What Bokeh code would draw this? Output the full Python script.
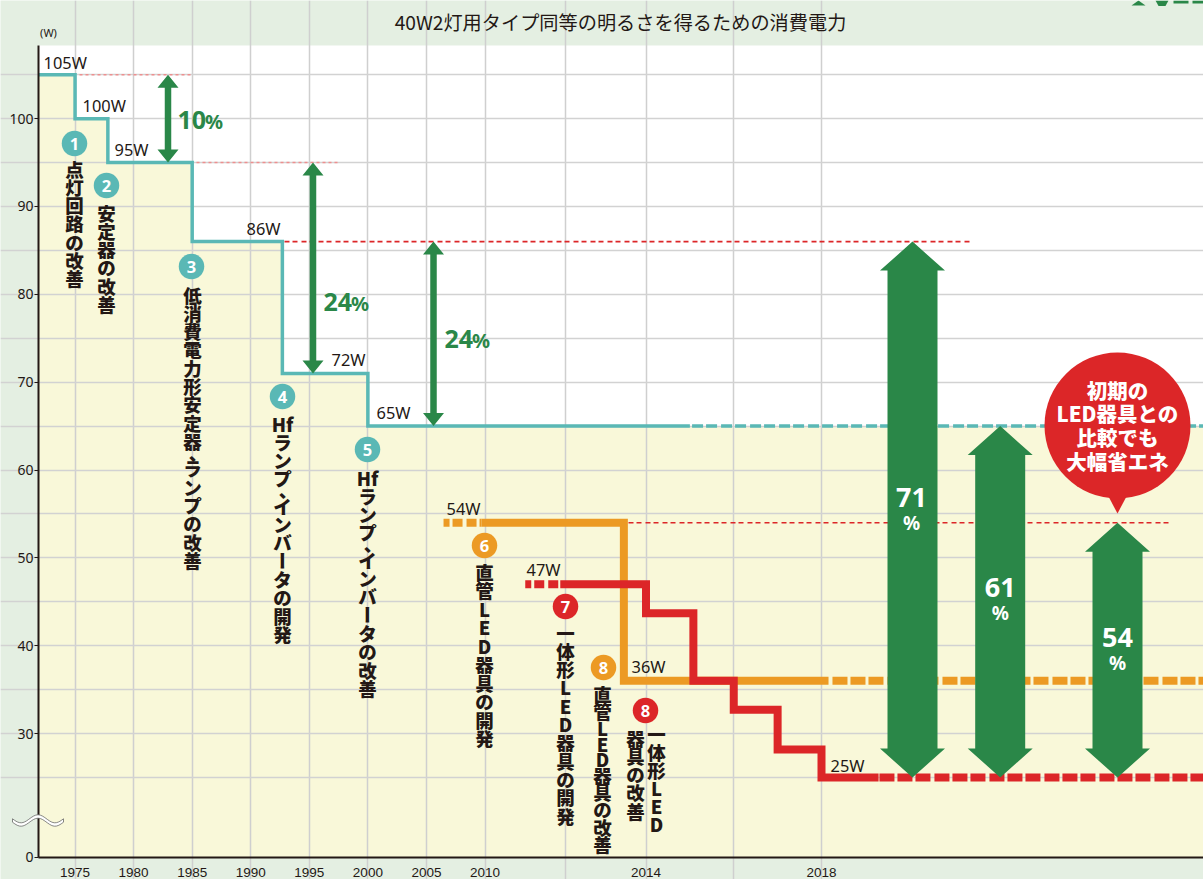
import re
import numpy as np
from bokeh.plotting import figure
from bokeh.models import Range1d, FixedTicker
from bokeh.core.properties import value
from bokeh.embed import file_html
from bokeh.resources import INLINE

# ---------- data ----------
TITLE = "40W2灯用タイプ同等の明るさを得るための消費電力"
X_LABEL_YEARS = [1975, 1980, 1985, 1990, 1995, 2000, 2005, 2010, 2014, 2018]
X_GRID_YEARS = [1975, 1980, 1985, 1990, 1995, 2000, 2005, 2010, 2012, 2014, 2016, 2018]
Y_TICKS = [30, 40, 50, 60, 70, 80, 90, 100]
Y_GRID = [25, 30, 35, 40, 45, 50, 55, 60, 65, 70, 75, 80, 85, 90, 95, 100, 105]

teal_years = [1971.9, 1975.0, 1977.8, 1985.0, 1992.7, 2000.0, 2015.0]
teal_watts = [105, 100, 95, 86, 71, 65, 65]
teal_dash_years = [2015.05, 2026.7]
teal_dash_watts = [65, 65]

orange_years = [2009.7, 2013.45, 2013.45, 2018.16]
orange_watts = [54, 54, 36, 36]
orange_left_years = [2006.46, 2009.7]
orange_right_years = [2018.25, 2026.7]

red_years = [2011.87, 2014.0, 2014.0, 2015.08, 2015.08, 2016.0, 2016.0, 2017.0, 2017.0, 2018.0, 2018.0, 2019.3]
red_watts = [47, 47, 43.7, 43.7, 36, 36, 32.7, 32.7, 28.2, 28.2, 25, 25]
red_left_years = [2011.0, 2011.87]
red_right_years = [2019.32, 2026.7]

# ---------- scales ----------
PX_PER_W = 8.785
BREAK_W = 15.894
TOP_W = 108.33
YEAR_KNOTS = [1970.0, 2010.0, 2014.0, 2018.0, 2030.0]
YEAR_PX = [16.0, 484.5, 645.5, 821.0, 1347.8]
LEFT, RIGHT = 38, 1203
CANVAS_W, CANVAS_H = 1203, 879
OX, OY = 0, 0


def xp(years):
    return np.round(np.interp(years, YEAR_KNOTS, YEAR_PX), 2)


def yp(py):
    return 25 + (777 - np.asarray(py, dtype=float)) / PX_PER_W


p = figure(width=CANVAS_W, height=CANVAS_H, output_backend="svg", toolbar_location=None,
           x_range=Range1d(OX, OX + CANVAS_W), y_range=Range1d(float(yp(OY + CANVAS_H)), float(yp(OY))),
           min_border_left=0, min_border_right=0, min_border_top=0, min_border_bottom=0,
           background_fill_color="#e4efe2", border_fill_color="#e4efe2",
           outline_line_color=None)

# plot area
p.quad(left=[LEFT], right=[RIGHT], bottom=[BREAK_W], top=[TOP_W], fill_color="#ffffff", line_color=None, level="image")

# axes
INK = "#231815"
ax = p.xaxis[0]
ax.fixed_location = BREAK_W
ax.bounds = (LEFT, RIGHT)
ax.ticker = FixedTicker(ticks=[float(xp(y)) for y in X_LABEL_YEARS])
ax.major_label_overrides = {float(xp(y)): str(y) for y in X_LABEL_YEARS}
ax.major_tick_line_color = None
ax.minor_tick_line_color = None
ax.axis_line_color = INK
ax.axis_line_width = 2
ax.major_label_text_font = "Liberation Sans"
ax.major_label_text_font_size = "13.5px"
ax.major_label_text_color = INK
ax.major_label_standoff = 5

ay = p.yaxis[0]
ay.fixed_location = LEFT
ay.bounds = (BREAK_W, TOP_W)
ay.ticker = FixedTicker(ticks=[BREAK_W] + Y_TICKS)
ay.major_label_overrides = {BREAK_W: "0"}
ay.minor_tick_line_color = None
ay.major_tick_in = 0
ay.major_tick_out = 4
ay.major_tick_line_color = INK
ay.axis_line_color = INK
ay.axis_line_width = 2
ay.major_label_text_font = "Noto Sans"
ay.major_label_text_font_size = "14px"
ay.major_label_text_color = INK
ay.major_label_standoff = 1

p.xgrid.ticker = FixedTicker(ticks=[float(xp(y)) for y in X_GRID_YEARS])
p.ygrid.ticker = FixedTicker(ticks=Y_GRID)
p.xgrid.bounds = (BREAK_W, TOP_W)
p.ygrid.bounds = (LEFT, RIGHT)
p.xgrid.grid_line_color = "#cfcfcf"
p.ygrid.grid_line_color = "#d2d2d2"
p.xgrid.grid_line_width = 1.5
p.ygrid.grid_line_width = 1.5

# yellow area below the teal line
area_x = xp(teal_years + [2026.7])
area_y = teal_watts + [65]
p.varea_step(x=area_x, y1=[BREAK_W] * len(area_x), y2=area_y, step_mode="after",
             fill_color="#f9f8d9", level="image")

TEAL, ORANGE, RED, GREEN = "#5ab8b5", "#ec9a24", "#dc2628", "#2a8748"

# thin red dashed reference lines
for x0, x1, w, col, lw, dash in [
    (79, 191.5, 105, "#ee8f8f", 1.4, "3 3"),
    (196, 338, 95, "#ee8f8f", 1.4, "3 3"),
    (284, 970, 86, RED, 1.6, "5 3 5 4"),
    (628, 1172, 54, RED, 1.6, "5 3 5 4"),
]:
    p.line([x0, x1], [w, w], line_color=col, line_width=lw, line_dash=dash)

# teal steps
p.step(xp(teal_years), teal_watts, mode="after", line_color=TEAL, line_width=3.5, line_join="miter")
p.line(xp(teal_dash_years), teal_dash_watts, line_color=TEAL, line_width=3.5, line_dash="11 3 11 4")

# orange
p.line(xp(orange_years), orange_watts, line_color=ORANGE, line_width=8, line_join="miter")
p.line(xp(orange_left_years), [54, 54], line_color=ORANGE, line_width=8, line_dash="10 3 10 4", line_dash_offset=4)
p.line(xp(orange_right_years), [36, 36], line_color=ORANGE, line_width=8, line_dash="15 3 15 3 15 4")

# red
p.line(xp(red_years), red_watts, line_color=RED, line_width=8, line_join="miter")
p.line(xp(red_left_years), [47, 47], line_color=RED, line_width=8, line_dash="10 3 10 4", line_dash_offset=4)
p.line(xp(red_right_years), [25, 25], line_color=RED, line_width=8, line_dash="15 3 15 3 15 4")


# arrows
def arrow(xc, w_low, w_high, shaft, head_w, head_h):
    h = head_h / PX_PER_W
    s, b = shaft / 2, head_w / 2
    xs = [xc, xc + b, xc + s, xc + s, xc + b, xc, xc - b, xc - s, xc - s, xc - b]
    ys = [w_high, w_high - h, w_high - h, w_low + h, w_low + h, w_low, w_low + h, w_low + h, w_high - h, w_high - h]
    p.patch(xs, ys, fill_color=GREEN, line_color=None)


arrow(167.5, 95, 105, 6.5, 21, 13)
arrow(312.5, 71, 95, 6.5, 21, 13)
arrow(433, 65, 86, 6.5, 21, 13)
arrow(912, 25, 86, 50, 65, 29)
arrow(999.7, 25, 65, 50, 65, 29)
arrow(1117, 25, 54, 50, 65, 29)


def txt(x, py, s, size, color=INK, font="Noto Sans", bold=False, align="left"):
    p.text([x], [float(yp(py))], text=[s], text_font=value(font),
           text_font_size=value(f"{size}px"), text_color=color,
           text_font_style="bold" if bold else "normal",
           text_align=align, text_baseline="middle")


# title and unit
txt(620, 21, TITLE, 19.2, font="Noto Sans CJK JP", align="center")
txt(48, 32, "(W)", 11, align="center")

# percentages
for x, py, s in [(177, 119, "10"), (323, 301, "24"), (444, 338, "24")]:
    txt(x, py, s, 25, GREEN, bold=True)
    txt(x + 27.5, py + 2, "%", 20, GREEN, bold=True)
for xc, py, s in [(911, 497, "71"), (999.7, 587, "61"), (1117, 637, "54")]:
    txt(xc, py, s, 27, "#ffffff", bold=True, align="center")
    txt(xc, py + 25, "%", 19, "#ffffff", bold=True, align="center")

# value labels
for x, py, s in [(43, 62, "105W"), (82, 105, "100W"), (114, 149, "95W"), (246, 228, "86W"),
                 (331, 359, "72W"), (376, 412, "65W"), (446, 508, "54W"), (526, 569, "47W"),
                 (631, 666, "36W"), (830, 765, "25W")]:
    txt(x, py, s, 16.4)

# numbered badges
for x, py, s, col in [(74, 143, "1", TEAL), (106, 185, "2", TEAL), (191, 266, "3", TEAL),
                      (282, 396, "4", TEAL), (367, 449, "5", TEAL), (484, 545, "6", ORANGE),
                      (565, 606, "7", RED), (603, 667, "8", ORANGE), (645, 710, "8", RED)]:
    p.scatter([x], [float(yp(py))], size=25.5, fill_color=col, line_color=None)
    txt(x, py, s, 16.5, "#ffffff", bold=True, align="center")

VFONT = "Noto Sans CJK JP Black"


# vertical captions, one glyph at a time
def vtext(x, py, s, step=18.3, latin_step=None, size=18.5):
    latin_step = latin_step or step
    y = py
    for tok in re.findall(r"Hf|.", s):
        if tok == "、":
            y -= step * 0.1
            p.text([x + size * 0.3], [float(yp(y - size * 0.3))], text=[tok],
                   text_font=value(VFONT), text_font_size=value(f"{size}px"),
                   text_color=INK, text_font_style="bold", text_align="center", text_baseline="middle")
            y += step * 0.6
            continue
        ang = -np.pi / 2 if tok == "ー" else 0
        p.text([x], [float(yp(y))], text=[tok], angle=ang,
               text_font=value(VFONT), text_font_size=value(f"{size}px"),
               text_color=INK, text_font_style="bold",
               text_align="center", text_baseline="middle")
        y += latin_step if tok in "LED" else step


vtext(74, 168, "点灯回路の改善")
vtext(106, 212, "安定器の改善")
vtext(192, 294, "低消費電力形安定器、ランプの改善")
vtext(282, 423, "Hfランプ、インバータの開発")
vtext(367, 477, "Hfランプ、インバータの改善")
vtext(484, 571, "直管LED器具の開発", step=18.5)
vtext(565, 632, "一体形LED器具の開発")
vtext(602, 693, "直管LED器具の改善", step=17.3, latin_step=15.5)
vtext(656, 733, "一体形LED", step=18)
vtext(635, 737, "器具の改善")

# red bubble
p.circle(x=[1117], y=[float(yp(425))], radius=73, fill_color=RED, line_color=None)
p.patch([1108, 1117, 1126], [float(yp(496)), float(yp(513)), float(yp(496))], fill_color=RED, line_color=None)
for py, s in [(389, "初期の"), (412, "LED器具との"), (436, "比較でも"), (460, "大幅省エネ")]:
    txt(1117, py, s, 20.5, "#ffffff", font=VFONT, bold=True, align="center")

# axis break wave (a decoration, in front of the axis line)
wx = np.linspace(12, 63, 30)
wy = 820 + 4 * np.sin((wx - 12) / 51 * 3 * np.pi)
p.patch(list(wx) + list(wx[::-1]), list(yp(wy - 1.7)) + list(yp(wy[::-1] + 1.7)),
        fill_color="#ffffff", line_color="#555555", line_width=0.7, level="annotation")

# cropped logo at the top edge
for xs, ys in [([1131, 1138, 1145], [5, 0, 5]), ([1155, 1168, 1165, 1158], [0, 0, 5.5, 5.5]),
               ([1173, 1188, 1188, 1173], [0, 0, 3, 3]), ([1192, 1203, 1203, 1192], [0, 0, 3, 3])]:
    p.patch(xs, list(yp(ys)), fill_color=GREEN, line_color=None)

open("out.html", "w").write(file_html(p, INLINE))
